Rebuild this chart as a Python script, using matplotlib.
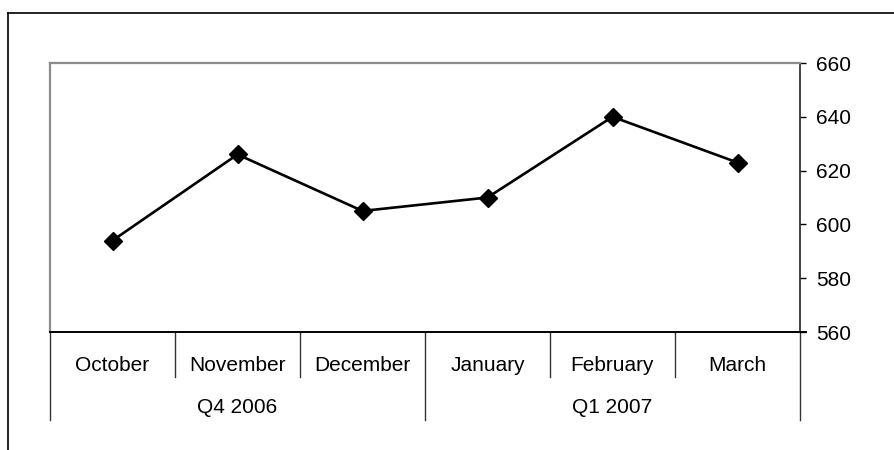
import matplotlib
matplotlib.use("Agg")
import matplotlib.pyplot as plt
from matplotlib.lines import Line2D

plt.rcParams["font.family"] = ["Liberation Sans", "DejaVu Sans"]

# Data
months = ["October", "November", "December", "January", "February", "March"]
values = [594, 626, 605, 610, 640, 623]
quarters = ["Q4 2006", "Q1 2007"]
months_per_quarter = [3, 3]
y_ticks = [560, 580, 600, 620, 640, 660]

W, H = 894, 450
fig = plt.figure(figsize=(W / 100, H / 100), dpi=100)

# plot area in pixels
left, right, top, bottom = 50, 800, 63, 332
ax = fig.add_axes([left / W, 1 - bottom / H, (right - left) / W, (bottom - top) / H])

x = list(range(len(months)))
ax.plot(x, values, color="black", linewidth=1.9, marker="D", markersize=8.8,
        markerfacecolor="black", markeredgecolor="black", zorder=3)

ax.set_xlim(-0.5, len(months) - 0.5)
ax.set_ylim(y_ticks[0], y_ticks[-1])
ax.set_yticks(y_ticks)
ax.yaxis.tick_right()
ax.tick_params(axis="y", direction="out", length=4.3, width=1, color="black",
               labelsize=15, pad=7)
ax.set_xticks([])

# spines: gray plot-area border on top/left, black axis lines right/bottom
for side in ("top", "left"):
    ax.spines[side].set_color("#8c8c8c")
    ax.spines[side].set_linewidth(1.6)
ax.spines["right"].set_color("#222222")
ax.spines["right"].set_linewidth(1.2)
ax.spines["bottom"].set_color("black")
ax.spines["bottom"].set_linewidth(1.4)

# category axis: separators and labels below the plot area
trans = ax.get_xaxis_transform()
ph = bottom - top
short_end = -(377 - bottom) / ph
long_end = -(420 - bottom) / ph
month_y = -(371 - bottom) / ph
quarter_y = -(413 - bottom) / ph

# extend x axis line past right axis a bit
ax.add_line(Line2D([len(months) - 0.5, len(months) - 0.5 + 6 / 125], [0, 0],
                   transform=trans, color="black", linewidth=1.4, clip_on=False))

boundaries = [i - 0.5 for i in range(len(months) + 1)]
quarter_edges = [-0.5]
for n in months_per_quarter:
    quarter_edges.append(quarter_edges[-1] + n)

for b in boundaries:
    end = long_end if b in quarter_edges else short_end
    ax.add_line(Line2D([b, b], [0, end], transform=trans, color="#333333",
                       linewidth=1.0, clip_on=False))

for i, m in enumerate(months):
    ax.text(i, month_y, m, transform=trans, ha="center", va="baseline", fontsize=15)

for q, a, b in zip(quarters, quarter_edges[:-1], quarter_edges[1:]):
    ax.text((a + b) / 2, quarter_y, q, transform=trans, ha="center", va="baseline",
            fontsize=15)

# outer chart border (runs off the right and bottom of the image)
fx = 7.5 / W
fy = 1 - 13 / H
fig.add_artist(Line2D([fx, fx], [-0.1, fy], transform=fig.transFigure,
                      color="black", linewidth=1.2))
fig.add_artist(Line2D([fx, 1.1], [fy, fy], transform=fig.transFigure,
                      color="black", linewidth=1.2))

fig.savefig("out.png", dpi=100)
